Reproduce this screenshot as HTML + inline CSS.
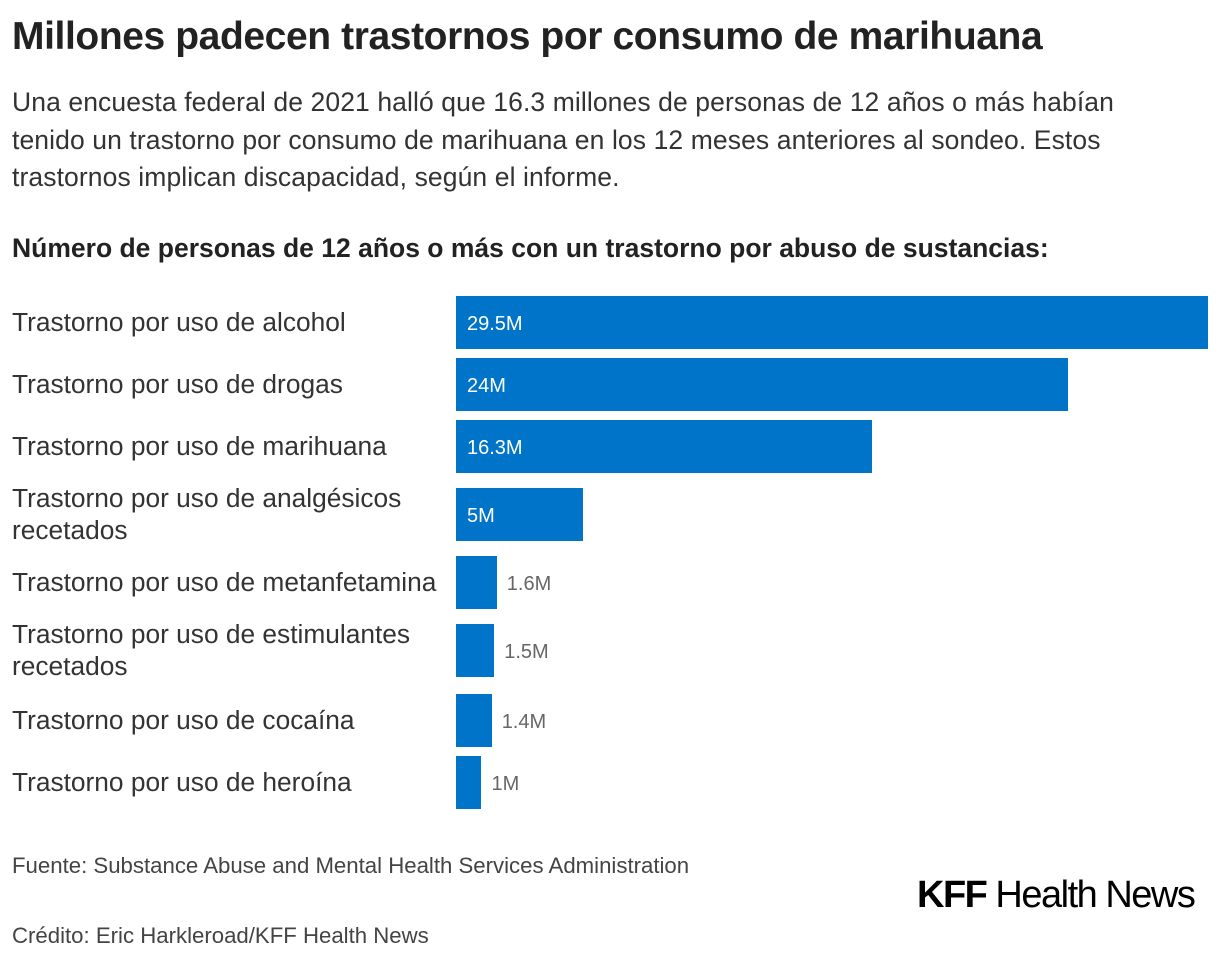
<!DOCTYPE html>
<html><head><meta charset="utf-8"><style>
body{margin:0;width:1220px;height:962px;background:#fff;font-family:"Liberation Sans",sans-serif;color:#222;position:relative;overflow:hidden}
.a{position:absolute;white-space:nowrap}
#title{left:12px;top:15px;font-size:39px;font-weight:bold;letter-spacing:-0.4px}
#sub{left:12px;top:84px;font-size:26.5px;line-height:37.5px;color:#333;letter-spacing:0.1px}
#ctitle{left:12px;top:233px;font-size:26.5px;font-weight:bold;letter-spacing:0px}
.lab{position:absolute;left:12px;font-size:26.3px;line-height:32px;color:#333}
.bar{position:absolute;background:#0074c9}
.val{position:absolute;font-size:20px;line-height:20px}
#src{left:12px;top:853px;font-size:22.2px;color:#444}
#cred{left:12px;top:923px;font-size:22.2px;color:#444}
#logo{left:917px;top:874px;font-size:38px;letter-spacing:-1.5px;color:#000}
</style></head><body>
<div class="a" id="title">Millones padecen trastornos por consumo de marihuana</div>
<div class="a" id="sub">Una encuesta federal de 2021 halló que 16.3 millones de personas de 12 años o más habían<br>tenido un trastorno por consumo de marihuana en los 12 meses anteriores al sondeo. Estos<br>trastornos implican discapacidad, según el informe.</div>
<div class="a" id="ctitle">Número de personas de 12 años o más con un trastorno por abuso de sustancias:</div>
<div id="chart"></div>
<div class="a" id="src">Fuente: Substance Abuse and Mental Health Services Administration</div>
<div class="a" id="cred">Crédito: Eric Harkleroad/KFF Health News</div>
<div class="a" id="logo"><b style="font-weight:900">KFF</b> Health News</div>
<script>
const categories=["Trastorno por uso de alcohol","Trastorno por uso de drogas","Trastorno por uso de marihuana","Trastorno por uso de analgésicos recetados","Trastorno por uso de metanfetamina","Trastorno por uso de estimulantes recetados","Trastorno por uso de cocaína","Trastorno por uso de heroína"];
const values=[29.5,24,16.3,5,1.6,1.5,1.4,1];
const valueLabels=["29.5M","24M","16.3M","5M","1.6M","1.5M","1.4M","1M"];
const twoLine=[false,false,false,true,false,true,false,false];
const rowTops=[296,358,420,488,556,624,694,756];
const x0=456,maxW=752,maxV=29.5;
const xs=v=>v/maxV*maxW;
const c=document.getElementById('chart');
categories.forEach((cat,i)=>{
  const barTop=rowTops[i];
  const b=document.createElement('div');b.className='bar';
  
  
  const w=xs(values[i]);
  b.style.cssText=`left:${x0}px;top:${barTop}px;width:${w}px;height:53px`;
  c.appendChild(b);
  const l=document.createElement('div');l.className='lab';
  
  
  if(twoLine[i]){const p=cat.lastIndexOf(' ');l.innerHTML=cat.slice(0,p)+'<br>'+cat.slice(p+1);l.style.top=(barTop-6)+'px';}
  else{l.textContent=cat;l.style.top=(barTop+10)+'px';}
  c.appendChild(l);
  const v=document.createElement('div');v.className='val';
  
  
  v.textContent=valueLabels[i];
  const inside=w>80;
  v.style.left=(inside?x0+11:x0+w+10)+'px';
  v.style.top=(barTop+18)+'px';
  v.style.color=inside?'#fff':'#666';
  c.appendChild(v);
});
</script>
</body></html>
